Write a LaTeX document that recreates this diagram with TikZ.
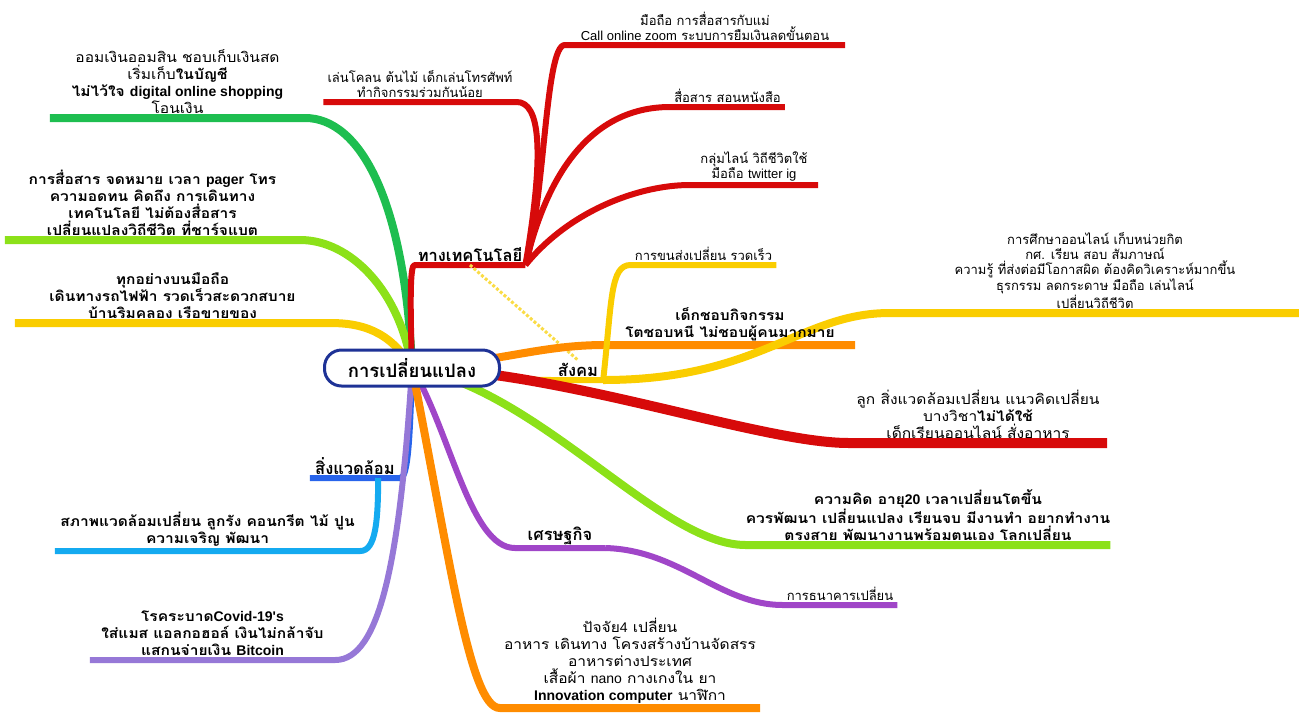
\documentclass[tikz,border=0pt]{standalone}
\usepackage{fontspec}
\newfontfamily\thaifont[Script=Thai]{Loma}
\newfontfamily\thaiwide[Script=Thai, FakeStretch=1.11]{Loma}
\newfontfamily\latfont{Liberation Sans}
\newcommand{\entxt}[1]{{\latfont #1}}
\pgfdeclarelayer{bg}
\pgfsetlayers{bg,main}
\tikzset{
  branch/.style={line width=8pt, line join=round},
  twig/.style={line width=6pt, line join=round},
  bigtext/.style={font=\thaiwide\fontsize{14}{17}\selectfont, align=center, inner sep=4pt, anchor=south},
  boldtext/.style={bigtext, font=\thaiwide\bfseries\fontsize{14}{17}\selectfont},
  smalltext/.style={font=\thaifont\fontsize{13}{15}\selectfont, align=center, inner sep=4pt, anchor=south},
  headtext/.style={font=\thaifont\bfseries\fontsize{16.5}{18}\selectfont, inner sep=3pt, anchor=south},
}
\begin{document}
\begin{tikzpicture}[x=1pt, y=-1pt]
    % Define colors
    \definecolor{hubblue}{RGB}{30,50,150}
    \definecolor{techred}{RGB}{215,10,10}
    \definecolor{savegreen}{RGB}{30,190,80}
    \definecolor{limegreen}{RGB}{140,225,25}
    \definecolor{sunyellow}{RGB}{250,205,0}
    \definecolor{paleyellow}{RGB}{250,220,70}
    \definecolor{deeporange}{RGB}{255,140,0}
    \definecolor{envblue}{RGB}{40,100,235}
    \definecolor{skyblue}{RGB}{20,170,240}
    \definecolor{lavender}{RGB}{150,120,215}
    \definecolor{econpurple}{RGB}{160,70,200}

    \useasboundingbox (0,0) rectangle (1299,713);

    % Centre
    \node[draw=hubblue, line width=3pt, fill=white, rounded corners=17pt,
          minimum width=175pt, minimum height=36pt,
          font=\thaifont\bfseries\fontsize{18.5}{20}\selectfont] (hub) at (412,368) {การเปลี่ยนแปลง};

    % Left side texts
    \node[bigtext, minimum width=255] (tSave) at (177.5,118)
        {ออมเงินออมสิน ชอบเก็บเงินสด\\ เริ่มเก็บ\textbf{ในบัญชี}\\ \textbf{ไม่ไว้ใจ \entxt{digital online shopping}}\\ โอนเงิน};
    \node[boldtext, minimum width=295] (tComm) at (152.5,240)
        {การสื่อสาร จดหมาย เวลา \entxt{pager} โทร\\ ความอดทน คิดถึง การเดินทาง\\ เทคโนโลยี ไม่ต้องสื่อสาร\\ เปลี่ยนแปลงวิถีชีวิต ที่ชาร์จแบต};
    \node[boldtext, minimum width=315] (tLife) at (172.5,323)
        {ทุกอย่างบนมือถือ\\ เดินทางรถไฟฟ้า รวดเร็วสะดวกสบาย\\ บ้านริมคลอง เรือขายของ};
    \node[headtext, minimum width=90] (lEnv) at (355,478) {สิ่งแวดล้อม};
    \node[boldtext, minimum width=305] (tEnv) at (207.5,551)
        {สภาพแวดล้อมเปลี่ยน ลูกรัง คอนกรีต ไม้ ปูน\\ ความเจริญ พัฒนา};
    \node[boldtext, minimum width=245] (tCovid) at (212.5,660)
        {โรคระบาด\entxt{Covid-19's}\\ ใส่แมส แอลกอฮอล์ เงินไม่กล้าจับ\\ แสกนจ่ายเงิน \entxt{Bitcoin}};

    % Technology texts
    \node[headtext, minimum width=110] (lTech) at (470,265) {ทางเทคโนโลยี};
    \node[smalltext, minimum width=280] (tTechA) at (705,45)
        {มือถือ การสื่อสารกับแม่\\ \entxt{Call online zoom} ระบบการยืมเงินลดขั้นตอน};
    \node[smalltext, minimum width=190] (tTechB) at (420,102)
        {เล่นโคลน ต้นไม้ เด็กเล่นโทรศัพท์\\ ทำกิจกรรมร่วมกันน้อย};
    \node[smalltext, minimum width=105] (tTechC) at (727.5,107) {สื่อสาร สอนหนังสือ};
    \node[smalltext, minimum width=128] (tTechD) at (754,185)
        {กลุ่มไลน์ วิถีชีวิตใช้\\ มือถือ \entxt{twitter ig}};

    % Society texts
    \node[headtext, minimum width=50] (lSoc) at (578,380) {สังคม};
    \node[smalltext, minimum width=143] (tTrans) at (703.5,265) {การขนส่งเปลี่ยน รวดเร็ว};
    \node[boldtext, minimum width=250] (tKids) at (730,345)
        {เด็กชอบกิจกรรม\\ โตชอบหนี ไม่ชอบผู้คนมากมาย};
    \node[smalltext, minimum width=410] (tEdu) at (1095,313)
        {การศึกษาออนไลน์ เก็บหน่วยกิต\\ กศ. เรียน สอบ สัมภาษณ์\\ ความรู้ ที่ส่งต่อมีโอกาสผิด ต้องคิดวิเคราะห์มากขึ้น\\ ธุรกรรม ลดกระดาษ มือถือ เล่นไลน์\\ เปลี่ยนวิถีชีวิต};

    % Right side texts
    \node[bigtext, minimum width=258] (tChild) at (978,443)
        {ลูก สิ่งแวดล้อมเปลี่ยน แนวคิดเปลี่ยน\\ บางวิชา\textbf{ไม่ได้ใช้}\\ เด็กเรียนออนไลน์ สั่งอาหาร};
    \node[boldtext, inner xsep=0pt] (tThink) at (928,545)
        {ความคิด อายุ\entxt{20} เวลาเปลี่ยนโตขึ้น\\ ควรพัฒนา เปลี่ยนแปลง เรียนจบ มีงานทำ อยากทำงาน\\ ตรงสาย พัฒนางานพร้อมตนเอง โลกเปลี่ยน};
    \node[headtext, minimum width=90] (lEcon) at (560,548) {เศรษฐกิจ};
    \node[smalltext, minimum width=110] (tBank) at (840,605) {การธนาคารเปลี่ยน};
    \node[bigtext, minimum width=260] (tFour) at (630,708)
        {ปัจจัย\entxt{4} เปลี่ยน\\ อาหาร เดินทาง โครงสร้างบ้านจัดสรร\\ อาหารต่างประเทศ\\ เสื้อผ้า \entxt{nano} กางเกงใน ยา\\ \entxt{\textbf{Innovation computer}} นาฬิกา};

    \begin{pgfonlayer}{bg}
    % Left branches
    \draw[branch, savegreen] (hub.center) .. controls (405,200) and (360,118) .. (tSave.south east) -- (tSave.south west);
    \draw[branch, limegreen] (hub.center) .. controls (400,290) and (350,240) .. (tComm.south east) -- (tComm.south west);
    \draw[branch, sunyellow] (hub.center) .. controls (390,330) and (360,323) .. (tLife.south east) -- (tLife.south west);
    \draw[twig, envblue] (hub.center) .. controls (410,440) and (408,478) .. (lEnv.south east) -- (lEnv.south west);
    \draw[twig, skyblue] ([xshift=-22pt]lEnv.south east) .. controls (378,520) and (376,551) .. (tEnv.south east) -- (tEnv.south west);
    \draw[twig, lavender] (hub.center) .. controls (400,560) and (380,660) .. (tCovid.south east) -- (tCovid.south west);

    % Technology
    \draw[twig, techred] (hub.center) .. controls (410,300) and (410,265) .. (lTech.south west) -- (lTech.south east);
    \draw[twig, techred] (lTech.south east) .. controls (545,200) and (545,45) .. (tTechA.south west) -- (tTechA.south east);
    \draw[twig, techred] (lTech.south east) .. controls (545,150) and (540,102) .. (tTechB.south east) -- (tTechB.south west);
    \draw[twig, techred] (lTech.south east) .. controls (550,160) and (600,107) .. (tTechC.south west) -- (tTechC.south east);
    \draw[twig, techred] (lTech.south east) .. controls (570,210) and (640,185) .. (tTechD.south west) -- (tTechD.south east);
    \draw[line width=3pt, paleyellow, dotted] (lTech.south) -- (lSoc.north);

    % Society
    \draw[branch, deeporange] (hub.center) .. controls (500,362) and (540,345) .. (tKids.south west) -- (tKids.south east);
    \draw[twig, sunyellow] (hub.center) .. controls (470,372) and (500,380) .. (lSoc.south west) -- (lSoc.south east);
    \draw[twig, sunyellow] (lSoc.south east) .. controls (612,300) and (610,265) .. (tTrans.south west) -- (tTrans.south east);
    \draw[branch, sunyellow] (lSoc.south east) .. controls (760,380) and (800,313) .. (tEdu.south west) -- (tEdu.south east);

    % Right branches
    \draw[line width=10pt, techred] (hub.center) .. controls (560,370) and (760,443) .. (tChild.south west) -- (tChild.south east);
    \draw[branch, limegreen] (hub.center) .. controls (540,390) and (660,545) .. (tThink.south west) -- (tThink.south east);
    \draw[twig, econpurple] (hub.center) .. controls (450,430) and (470,548) .. (lEcon.south west) -- (lEcon.south east);
    \draw[twig, econpurple] (lEcon.south east) .. controls (680,550) and (720,605) .. (tBank.south west) -- (tBank.south east);
    \draw[branch, deeporange] (hub.center) .. controls (450,560) and (470,708) .. (tFour.south west) -- (tFour.south east);
    \end{pgfonlayer}
\end{tikzpicture}
\end{document}
